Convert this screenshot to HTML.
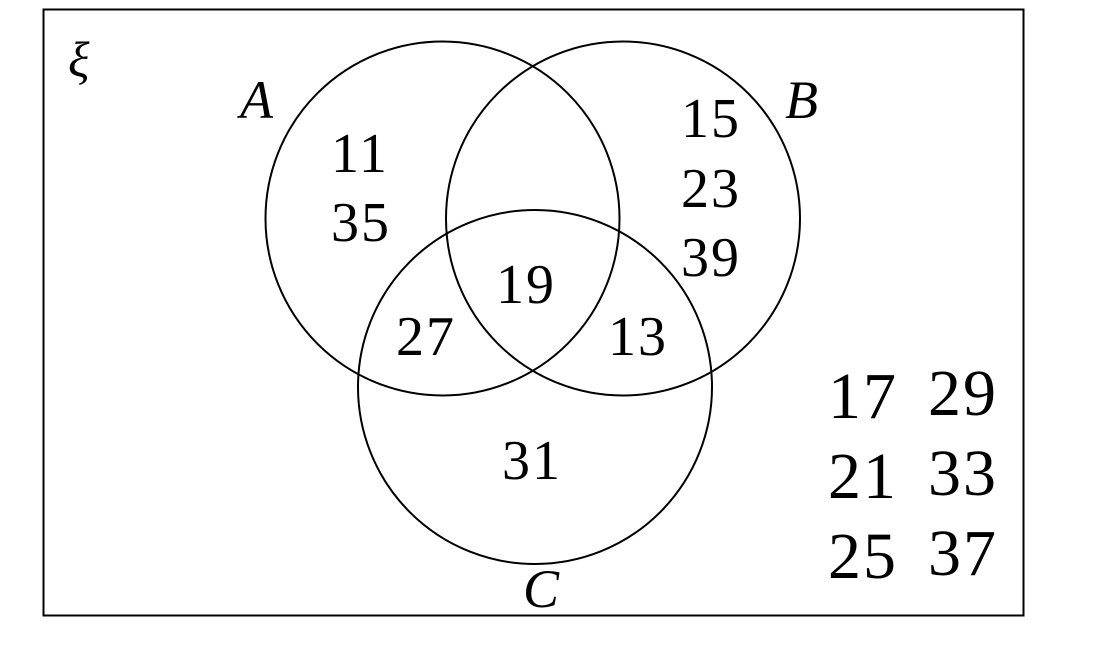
<!DOCTYPE html>
<html><head><meta charset="utf-8"><style>
html,body{margin:0;padding:0;background:#fff;}
svg{display:block;}
text{font-family:"Liberation Serif",serif;fill:#000;}
</style></head><body>
<svg width="1097" height="658" viewBox="0 0 1097 658" xmlns="http://www.w3.org/2000/svg">
<rect x="0" y="0" width="1097" height="658" fill="#fff"/>
<rect x="43.5" y="9.5" width="980" height="606" fill="none" stroke="#000" stroke-width="2"/>
<g fill="none" stroke="#000" stroke-width="2">
<circle cx="442.5" cy="218.5" r="177"/>
<circle cx="623" cy="218.5" r="177"/>
<circle cx="535" cy="387" r="177"/>
</g>
<g font-size="56" letter-spacing="2">
<text x="331" y="172">11</text>
<text x="331" y="241">35</text>
<text x="681" y="137">15</text>
<text x="681" y="207">23</text>
<text x="681" y="276">39</text>
<text x="496" y="303">19</text>
<text x="396" y="355">27</text>
<text x="608" y="355">13</text>
<text x="502" y="479">31</text>
</g>
<g font-size="66" letter-spacing="2">
<text x="828" y="418">17</text>
<text x="828" y="498">21</text>
<text x="828" y="578">25</text>
<text x="928" y="415">29</text>
<text x="928" y="495">33</text>
<text x="928" y="575">37</text>
</g>
<g font-size="54" font-style="italic">
<text x="240" y="118">A</text>
<text x="785" y="118">B</text>
<text x="523" y="607">C</text>
</g>
<text x="68" y="76" font-size="50" font-style="italic">ξ</text>
</svg>
</body></html>
